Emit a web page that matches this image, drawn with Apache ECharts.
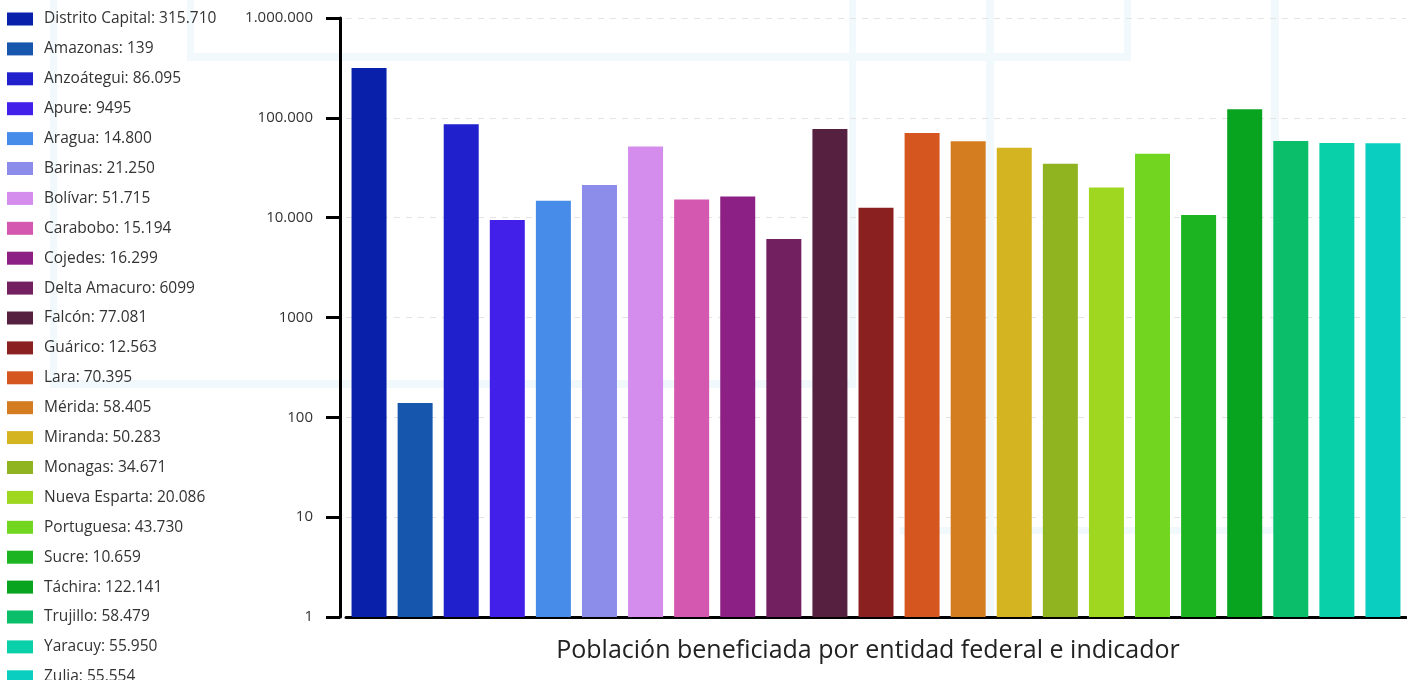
<!DOCTYPE html>
<html><head><meta charset="utf-8">
<script src="https://cdn.jsdelivr.net/npm/echarts@6/dist/echarts.min.js"></script>
<style>html,body{margin:0;padding:0;background:#fff}#c{width:1407px;height:680px}</style>
</head><body><div id="c"></div>
<script>
const categories = ["Distrito Capital","Amazonas","Anzoátegui","Apure","Aragua","Barinas","Bolívar","Carabobo","Cojedes","Delta Amacuro","Falcón","Guárico","Lara","Mérida","Miranda","Monagas","Nueva Esparta","Portuguesa","Sucre","Táchira","Trujillo","Yaracuy","Zulia"];
const values = [315710,139,86095,9495,14800,21250,51715,15194,16299,6099,77081,12563,70395,58405,50283,34671,20086,43730,10659,122141,58479,55950,55554];
const colors = ["#0820aa","#1656ac","#2020cc","#4220ea","#468ce8","#8c8ceb","#d48ced","#d458b0","#8c2084","#722060","#562040","#8a2020","#d65620","#d47c20","#d4b420","#8fb420","#9fd620","#72d620","#1cb420","#08a420","#0abe6a","#0ad0aa","#0acfc0"];
const axisTitle = "Población beneficiada por entidad federal e indicador";

function fmt(v){
  const s = String(Math.round(v));
  if (v < 10000) return s;
  return s.replace(/\B(?=(\d{3})+(?!\d))/g, ".");
}

const series = categories.map((name, i) => ({
  name: name,
  type: 'bar',
  barWidth: 35,
  barGap: '-100%',
  itemStyle: {color: colors[i]},
  data: categories.map((c, j) => j === i ? values[i] : '-')
}));

const wm = '#f1f9fd';
function r(x,y,w,h){return {type:'rect',shape:{x:x,y:y,width:w,height:h},style:{fill:wm},z:0,silent:true};}

const chart = echarts.init(document.getElementById('c'), null, {renderer:'canvas'});
chart.setOption({
  animation: false,
  textStyle: {fontFamily: 'Open Sans'},
  graphic: [
    r(50,0,7,388), r(50,380,806,8), r(849,0,7,388),
    r(187,0,7,61), r(187,53,944,8), r(1124,0,7,61),
    r(986,0,8,617), r(1271,0,8,534), r(900,527,379,7)
  ],
  legend: {
    orient: 'vertical', left: 2, top: 6, height: 800,
    itemWidth: 26, itemHeight: 13, itemGap: 13.9,
    icon: 'rect',
    textStyle: {fontSize: 15.5, color: '#333', fontFamily: 'Open Sans', padding: [0,0,0,6]},
    formatter: function(name){ const i = categories.indexOf(name); return name + ': ' + fmt(values[i]); },
    data: categories
  },
  grid: {left: 346, right: 1, top: 18, bottom: 63, containLabel: false},
  xAxis: {
    type: 'category', data: categories,
    axisLine: {lineStyle: {color: '#000', width: 3}},
    axisTick: {show: false}, axisLabel: {show: false},
    name: axisTitle, nameLocation: 'middle', nameGap: 21,
    nameTextStyle: {fontSize: 25, color: '#222', fontFamily: 'Open Sans', padding: [0,16,0,0]}
  },
  yAxis: {
    type: 'log', logBase: 10, min: 1, max: 1000000, offset: 6,
    axisLine: {show: true, lineStyle: {color: '#000', width: 3}},
    axisTick: {show: true, length: 14, lineStyle: {color: '#000', width: 3}},
    axisLabel: {fontSize: 15, color: '#333', margin: 27, formatter: v => fmt(v), fontFamily: 'Open Sans'},
    splitLine: {show: true, lineStyle: {color: '#e3e3e3', type: [6,6], width: 1}}
  },
  series: series
});
</script></body></html>
